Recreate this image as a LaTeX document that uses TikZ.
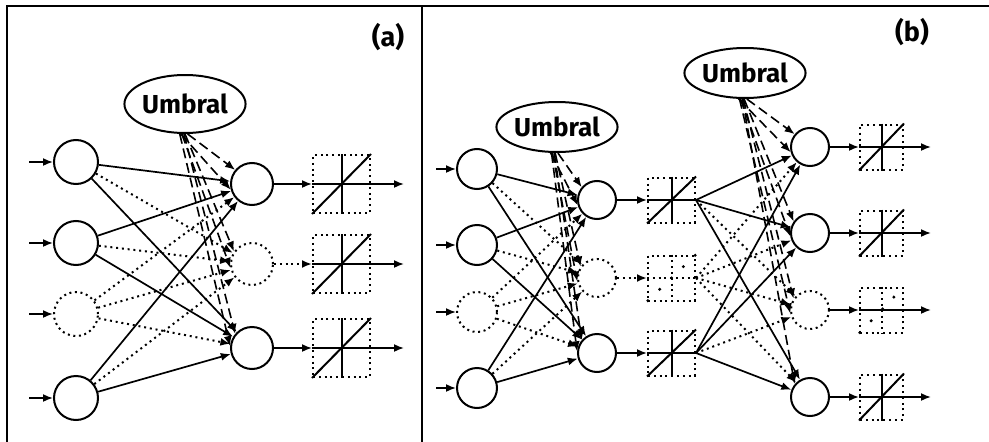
\documentclass[tikz,border=0pt]{standalone}
\usepackage{fontspec}
\setmainfont{Fira Sans}
\usetikzlibrary{arrows.meta,shapes.geometric}

\begin{document}
\begin{tikzpicture}[x=1pt,y=-1pt,
  tip/.style={-{Latex[length=10pt,width=8pt]}},
  unit/.style={circle,draw,line width=2pt,inner sep=0pt,minimum size=#1},
  unit/.default=42pt,
  deadunit/.style={unit=#1,dash pattern=on 2pt off 3.6pt},
  deadunit/.default=42pt,
  link/.style={line width=1.7pt,tip},
  dotlink/.style={link,line width=2pt,dash pattern=on 2pt off 3.8pt},
  thr/.style={line width=1.6pt,tip,dash pattern=on 10pt off 5pt},
  umbral/.style={ellipse,draw,line width=2pt,inner sep=0pt,
    font=\fontsize{26}{26}\selectfont\bfseries},
  actbox/.style={draw,line width=2pt,dash pattern=on 2pt off 3.8pt,
    inner sep=0pt},
  axis/.style={line width=2pt},
  dotaxis/.style={line width=2pt,dash pattern=on 2pt off 3.8pt},
  panel/.style={font=\fontsize{27}{27}\selectfont\bfseries}
]
\useasboundingbox (0,0) rectangle (989,442);

% frame
\draw[line width=2pt] (7,442) -- (7,6) -- (989,6);
\draw[line width=2pt] (422,6) -- (422,442);

% ================= panel (a) =================
\node[panel] (la) at (388,37) {(a)};
\node[umbral,minimum width=114pt,minimum height=58pt] (ua) at (185,104) {Umbral};

\node[unit=44pt] (ai1) at (76,162) {};
\node[unit=44pt] (ai2) at (76,243) {};
\node[deadunit=44pt] (ai3) at (76,314) {};
\node[unit=44pt] (ai4) at (76,398) {};
\foreach \k in {1,...,4} {
  \coordinate (ain\k) at ([xshift=-24pt]ai\k.west);
  \draw[link] (ain\k) -- (ai\k);
}

\node[unit] (ah1) at (252,184) {};
\node[deadunit] (ah2) at (252,264) {};
\node[unit] (ah3) at (252,348) {};

% weighted connections
\draw[link] (ai1) -- (ah1);
\draw[link] (ai1) -- (ah3);
\draw[link] (ai2) -- (ah1);
\draw[link] (ai2) -- (ah3);
\draw[link] (ai4) -- (ah1);
\draw[link] (ai4) -- (ah3);
\draw[dotlink] (ai1) -- (ah2);
\draw[dotlink] (ai2) -- (ah2);
\draw[dotlink] (ai3) -- (ah1);
\draw[dotlink] (ai3) -- (ah2);
\draw[dotlink] (ai3) -- (ah3);
\draw[dotlink] (ai4) -- (ah2);

% threshold links
\draw[thr] (ua.275) -- (ah1.140);
\draw[thr] (ua.262) -- (ah1.195);
\draw[thr] (ua.270) -- (ah2.145);
\draw[thr] (ua.264) -- (ah2.190);
\draw[thr] (ua.268) -- (ah3.140);
\draw[thr] (ua.260) -- (ah3.175);

% activation boxes
\foreach \k in {1,2,3} {
  \node[actbox,minimum width=57pt,minimum height=58pt] (ab\k)
    at ([xshift=89.5pt]ah\k.center) {};
  \coordinate (aout\k) at ([xshift=33pt]ab\k.east);
}
\foreach \k in {1,3} {
  \draw[link] (ah\k) -- (ab\k.west);
  \draw[axis] (ab\k.north) -- (ab\k.south);
  \draw[axis] (ab\k.south west) -- (ab\k.north east);
  \draw[link] (ab\k.west) -- (aout\k);
}
\draw[dotlink] (ah2) -- (ab2.west);
\draw[axis] (ab2.north) -- (ab2.south);
\draw[axis] (ab2.south west) -- (ab2.north east);
\draw[link] (ab2.west) -- (aout2);

% ================= panel (b) =================
\node[panel] (lb) at (912,32) {(b)};
\node[umbral,minimum width=110pt,minimum height=50pt] (ub1) at (557,127) {Umbral};
\node[umbral,minimum width=110pt,minimum height=50pt] (ub2) at (745,73) {Umbral};

\node[unit=40pt] (bi1) at (477,169) {};
\node[unit=40pt] (bi2) at (477,245) {};
\node[deadunit=40pt] (bi3) at (477,312) {};
\node[unit=40pt] (bi4) at (477,388) {};
\foreach \k in {1,...,4} {
  \coordinate (bin\k) at ([xshift=-20pt]bi\k.west);
  \draw[link] (bin\k) -- (bi\k);
}

\node[unit=38pt] (bh1) at (597,200) {};
\node[deadunit=38pt] (bh2) at (597,278) {};
\node[unit=38pt] (bh3) at (597,353) {};

\draw[link] (bi1) -- (bh1);
\draw[link] (bi1) -- (bh3);
\draw[link] (bi2) -- (bh1);
\draw[link] (bi2) -- (bh3);
\draw[link] (bi4) -- (bh1);
\draw[link] (bi4) -- (bh3);
\draw[dotlink] (bi1) -- (bh2);
\draw[dotlink] (bi2) -- (bh2);
\draw[dotlink] (bi3) -- (bh1);
\draw[dotlink] (bi3) -- (bh2);
\draw[dotlink] (bi3) -- (bh3);
\draw[dotlink] (bi4) -- (bh2);

\draw[thr] (ub1.272) -- (bh1.140);
\draw[thr] (ub1.256) -- (bh1.195);
\draw[thr] (ub1.266) -- (bh2.145);
\draw[thr] (ub1.260) -- (bh2.190);
\draw[thr] (ub1.264) -- (bh3.140);
\draw[thr] (ub1.258) -- (bh3.175);

% hidden activation boxes
\foreach \k in {1,2,3} {
  \node[actbox,minimum width=47pt,minimum height=45pt] (bb\k)
    at ([xshift=74.5pt]bh\k.center) {};
}
\foreach \k in {1,3} {
  \draw[link] (bh\k) -- (bb\k.west);
  \draw[axis] (bb\k.north) -- (bb\k.south);
  \draw[axis] (bb\k.south west) -- (bb\k.north east);
  \draw[axis] (bb\k.west) -- (bb\k.east);
}
\draw[dotlink] (bh2) -- (bb2.west);
\draw[dotaxis] (bb2.north) -- (bb2.south);
\draw[dotaxis] (bb2.west) -- (bb2.east);
\draw[line width=2.4pt,dash pattern=on 2.4pt off 14pt] (bb2.south west) -- (bb2.north east);

% output layer
\node[unit=38pt] (bo1) at (810,147) {};
\node[unit=38pt] (bo2) at (810,233) {};
\node[deadunit=38pt] (bo3) at (810,310) {};
\node[unit=38pt] (bo4) at (810,397) {};

\foreach \j in {1,2,4} {
  \draw[link] (bb1.east) -- (bo\j);
  \draw[link] (bb3.east) -- (bo\j);
  \draw[dotlink] (bb2.east) -- (bo\j);
}
\draw[dotlink] (bb1.east) -- (bo3);
\draw[dotlink] (bb2.east) -- (bo3);
\draw[dotlink] (bb3.east) -- (bo3);

\draw[thr] (ub2.274) -- (bo1.140);
\draw[thr] (ub2.256) -- (bo1.195);
\draw[thr] (ub2.268) -- (bo2.145);
\draw[thr] (ub2.260) -- (bo2.190);
\draw[thr] (ub2.266) -- (bo3.145);
\draw[thr] (ub2.258) -- (bo3.190);
\draw[thr] (ub2.264) -- (bo4.140);

% output activation boxes
\foreach \k in {1,2,3,4} {
  \node[actbox,minimum width=43pt,minimum height=45pt] (ob\k)
    at ([xshift=71.5pt]bo\k.center) {};
  \coordinate (bout\k) at ([xshift=27pt]ob\k.east);
  \draw[link] (bo\k) -- (ob\k.west);
  \draw[link] (ob\k.west) -- (bout\k);
}
\foreach \k in {1,2,4} {
  \draw[axis] (ob\k.north) -- (ob\k.south);
  \draw[axis] (ob\k.south west) -- (ob\k.north east);
}
\draw[dotaxis] (ob3.north) -- (ob3.south);
\draw[line width=2.4pt,dash pattern=on 2.4pt off 14pt] (ob3.south west) -- (ob3.north east);

\end{tikzpicture}
\end{document}
